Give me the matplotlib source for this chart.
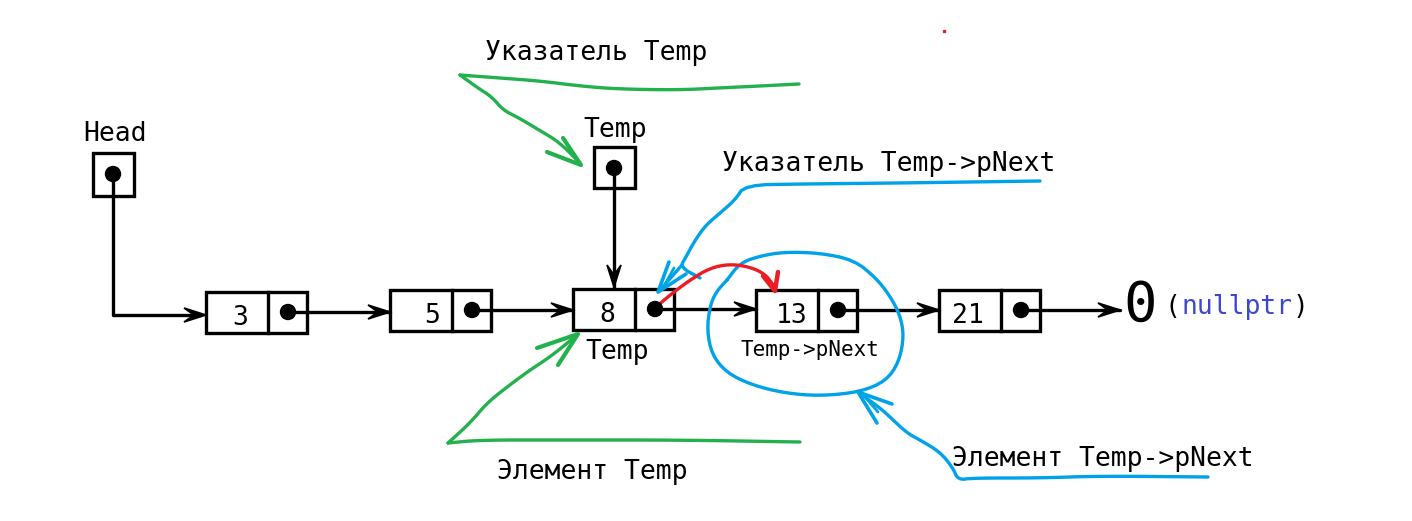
import matplotlib
matplotlib.use("Agg")
import matplotlib.pyplot as plt
from matplotlib.patches import Rectangle, Circle, Polygon
import numpy as np

# ── данные схемы ─────────────────────────────────────────────────────────────
node_values = ["3", "5", "8", "13", "21"]
pointer_names = ["Head", "Temp"]
green_notes = ["Указатель Temp", "Элемент Temp"]
blue_notes = ["Указатель Temp->pNext", "Элемент Temp->pNext"]
node_labels = ["Temp", "Temp->pNext"]
tail_zero = "0"
tail_null = "nullptr"

# ── раскладка (пиксели исходной картинки) ───────────────────────────────────
node_x = [206, 390, 573, 756, 939]
node_y = [292, 290, 289, 290, 290]
node_w, node_h, cell_w = 101, 41, 62
num_dx = [34, 42, 34, 36, 29]

BLACK = "#000000"
GREEN = "#22b14c"
BLUE = "#00a2e8"
RED = "#ed1c24"
LW = 2.4
FONT = "DejaVu Sans Mono"

fig = plt.figure(figsize=(14.12, 5.21), dpi=100)
ax = fig.add_axes([0, 0, 1, 1])
ax.set_xlim(0, 1412)
ax.set_ylim(521, 0)
ax.axis("off")


def head(tip, d, color, L=22, W=7):
    d = np.asarray(d, float)
    d = d / np.hypot(*d)
    n = np.array([-d[1], d[0]])
    t = np.asarray(tip, float)
    pts = [t, t - L * d + W * n, t - 0.55 * L * d, t - L * d - W * n]
    ax.add_patch(Polygon(pts, closed=True, facecolor=color, edgecolor=color, lw=1.2))


def arrow(x0, y0, x1, y1, color=BLACK):
    ax.plot([x0, x1], [y0, y1], color=color, lw=LW, solid_capstyle="round")
    head((x1, y1), (x1 - x0, y1 - y0), color)


def smooth(pts, n=2):
    # сглаживание Чайкина, концы сохраняются
    p = np.asarray(pts, float)
    for _ in range(n):
        q = [p[0]]
        for a, b in zip(p[:-1], p[1:]):
            q.append(0.75 * a + 0.25 * b)
            q.append(0.25 * a + 0.75 * b)
        q.append(p[-1])
        p = np.array(q)
    return p


def path(pts, color, lw=LW, soft=True):
    p = smooth(pts) if soft and len(pts) > 2 else np.asarray(pts, float)
    ax.plot(p[:, 0], p[:, 1], color=color, lw=lw, solid_capstyle="round", solid_joinstyle="round")


def dot(x, y):
    ax.add_patch(Circle((x, y), 7.5, color=BLACK, zorder=5))


def txt(x, y, s, size=19, ha="center", color=BLACK):
    ax.text(x, y, s, fontsize=size, family=FONT, ha=ha, va="center", color=color)


# узлы списка
dots = []
for val, x, y, dx in zip(node_values, node_x, node_y, num_dx):
    ax.add_patch(Rectangle((x, y), node_w, node_h, fill=False, ec=BLACK, lw=LW))
    ax.plot([x + cell_w, x + cell_w], [y, y + node_h], color=BLACK, lw=LW)
    txt(x + dx, y + 26, val)
    cx, cy = x + cell_w + 20, y + 20
    dot(cx, cy)
    dots.append((cx, cy))

for (cx, cy), nx in zip(dots[:-1], node_x[1:]):
    arrow(cx, cy, nx, cy)
arrow(dots[-1][0], dots[-1][1], 1120, dots[-1][1])

txt(1140, 306, tail_zero, size=40)
ax.text(1165, 307, "(", fontsize=19, family=FONT, ha="left", va="center")
ax.text(1182, 307, tail_null, fontsize=19, family=FONT, ha="left", va="center", color="#3f48cc")
ax.text(1293, 307, ")", fontsize=19, family=FONT, ha="left", va="center")

# указатель Head
txt(115, 134, pointer_names[0])
ax.add_patch(Rectangle((93, 153), 41, 43, fill=False, ec=BLACK, lw=LW))
dot(113, 174)
ax.plot([113, 113, 196], [174, 315, 315], color=BLACK, lw=LW)
head((206, 315), (1, 0), BLACK)

# указатель Temp
txt(615, 130, pointer_names[1])
ax.add_patch(Rectangle((594, 147), 41, 41, fill=False, ec=BLACK, lw=LW))
dot(614, 168)
arrow(614, 168, 614, 287)

txt(617, 352, node_labels[0])
txt(810, 350, node_labels[1], size=15)

# зелёные пометки
txt(485, 53, green_notes[0], ha="left")
path([(460, 75), (500, 78), (540, 81), (580, 86), (617, 89), (678, 90),
      (718, 88), (760, 86), (799, 84)], GREEN)
path([(460, 75), (478, 88), (492, 97), (503, 110), (519, 118), (539, 130),
      (559, 142), (578, 161)], GREEN)
path([(547, 152), (581, 165), (563, 138)], GREEN, lw=3.0, soft=False)

txt(497, 472, green_notes[1], ha="left")
path([(448, 443), (480, 440), (560, 440), (680, 440), (800, 442)], GREEN)
path([(448, 443), (470, 423), (487, 403), (507, 387), (530, 370),
      (550, 357), (576, 336)], GREEN)
path([(537, 348), (578, 334), (558, 365)], GREEN, lw=3.0, soft=False)

# синие пометки
txt(722, 164, blue_notes[0], ha="left")
path([(1040, 181), (900, 183), (800, 184), (745, 185), (735, 200), (720, 213),
      (705, 226), (694, 242), (686, 257), (680, 267), (700, 278)], BLUE)
path([(682, 265), (660, 290)], BLUE, soft=False)
path([(669, 262), (658, 292), (686, 274)], BLUE, lw=2.6, soft=False)
path([(674, 268), (664, 286)], BLUE, lw=2.0, soft=False)

circle_pts = [(727, 280), (740, 263), (760, 256), (784, 252), (820, 253), (854, 260),
              (876, 278), (890, 296), (900, 315), (904, 336), (899, 362), (886, 381),
              (860, 392), (820, 396), (784, 393), (752, 385), (727, 373), (712, 355),
              (707, 330), (710, 306), (716, 292), (727, 280)]
path(circle_pts, BLUE)

txt(952, 459, blue_notes[1], ha="left")
path([(1208, 477), (1100, 476), (1040, 478), (973, 478), (958, 480), (953, 468),
      (940, 452), (920, 440), (907, 433), (890, 417), (880, 408), (858, 392)], BLUE)
path([(877, 423), (858, 392), (892, 404)], BLUE, lw=2.6, soft=False)
path([(878, 412), (866, 398)], BLUE, lw=2.0, soft=False)

# красная стрелка Temp -> pNext
path([(655, 308), (670, 295), (690, 280), (710, 268), (730, 264),
      (750, 267), (765, 274), (774, 286)], RED)
path([(763, 276), (775, 291), (778, 272)], RED, lw=3.2, soft=False)
ax.plot([944], [31], marker="s", ms=1.5, color=RED)

fig.savefig("out.png", dpi=100, facecolor="white")
